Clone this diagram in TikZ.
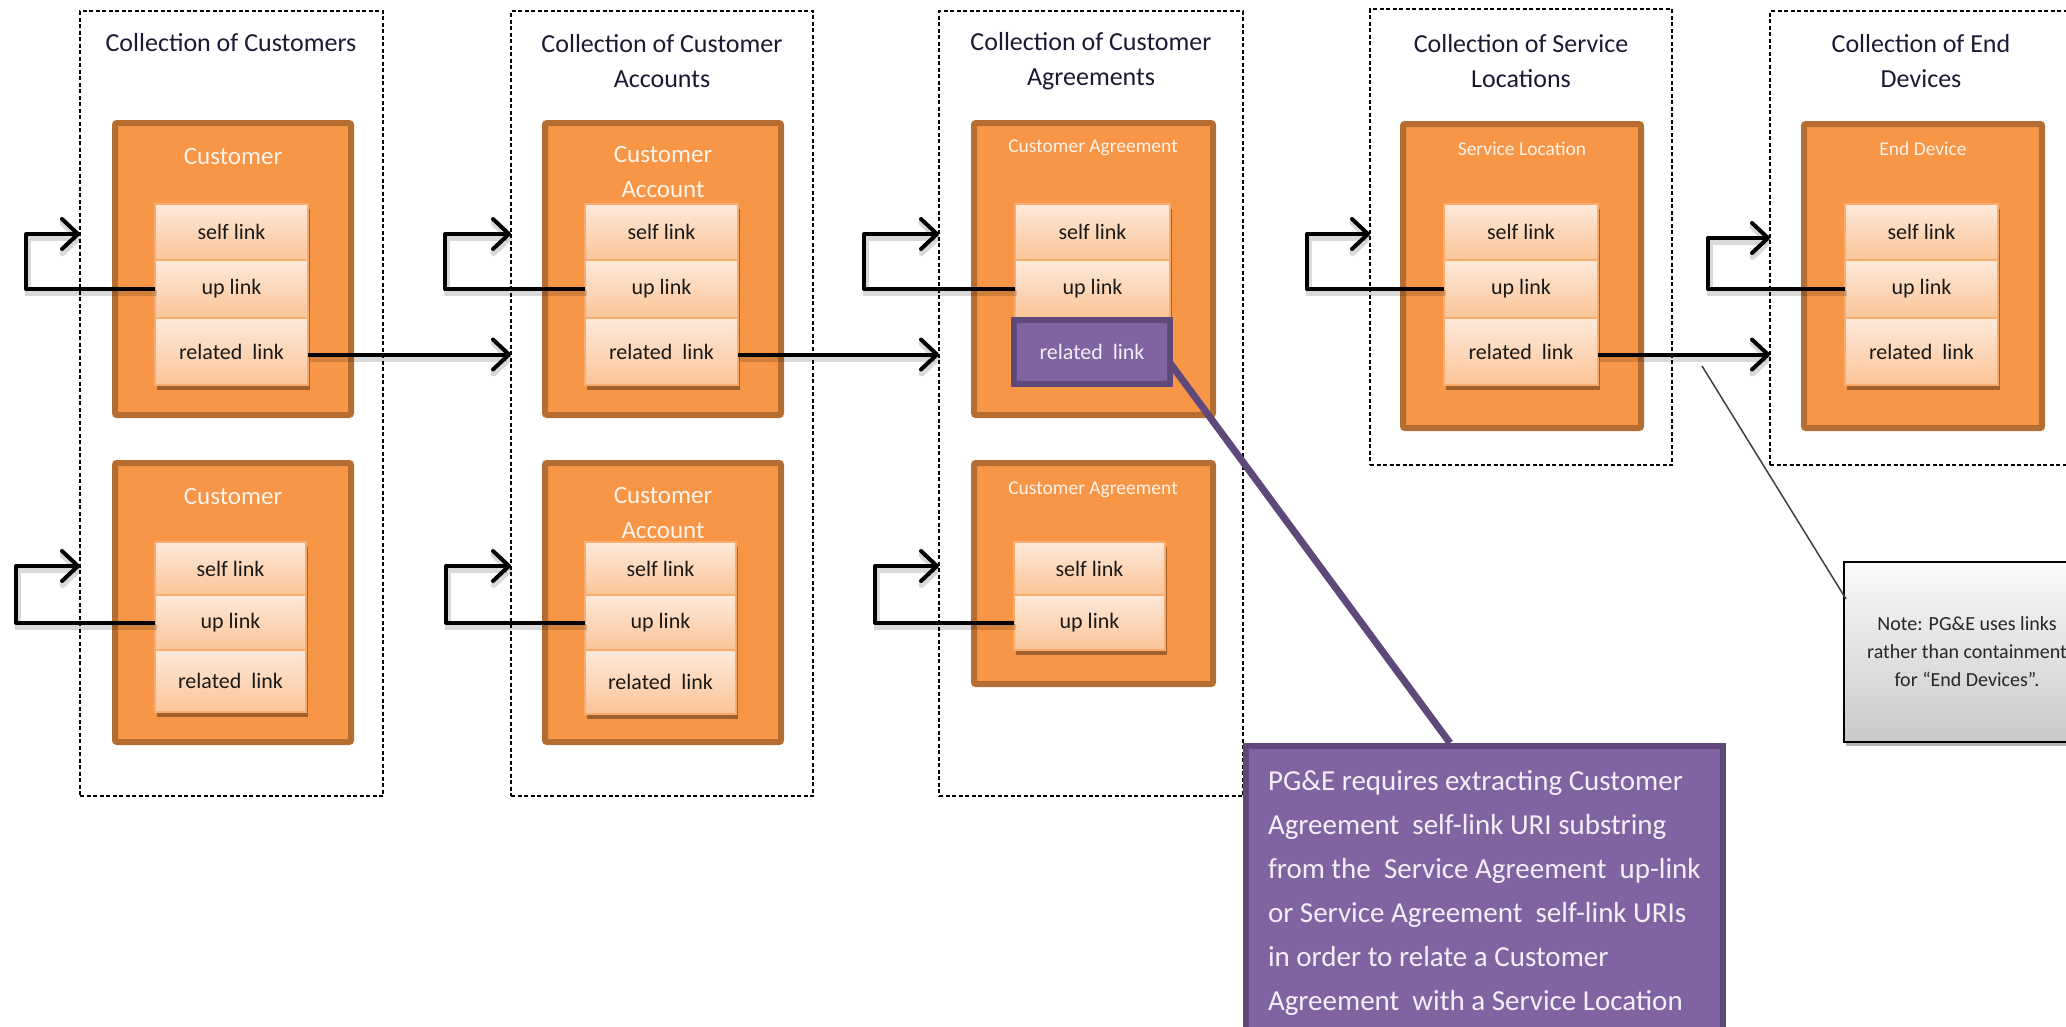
\documentclass[tikz,border=0pt]{standalone}
\usepackage{fontspec}
\setmainfont{Carlito}
\usetikzlibrary{arrows.meta,calc,shadows}
\definecolor{orfill}{HTML}{F79646}
\definecolor{orline}{HTML}{B66D31}
\definecolor{rowtop}{HTML}{FDE9DA}
\definecolor{rowbot}{HTML}{FBC497}
\definecolor{rowline}{HTML}{F8AC6E}
\definecolor{pfill}{HTML}{8064A2}
\definecolor{pline}{HTML}{5F497A}
\definecolor{titletxt}{HTML}{1A1A33}
\definecolor{boxtxt}{HTML}{FFF3EA}
\definecolor{ptxt}{HTML}{F4EEF8}
\tikzset{
 coll/.style={draw=black, line width=1.4pt, dash pattern=on 4pt off 2.5pt, inner sep=0pt, outer sep=0pt},
 ent/.style={draw=orline, fill=orfill, line width=6pt, rounded corners=2pt, inner sep=0pt, outer sep=0pt},
 linkrow/.style={draw=rowline, line width=1.5pt, top color=rowtop, bottom color=rowbot, inner sep=0pt, outer sep=0pt, font=\fontsize{22}{24}\selectfont, text=black!90},
 prow/.style={draw=pline, fill=pfill, line width=6pt, inner sep=0pt, outer sep=0pt, font=\fontsize{22}{24}\selectfont, text=ptxt},
 stackshadow/.style={fill=rowbot, drop shadow={shadow xshift=2pt, shadow yshift=-5pt, opacity=0.35, fill=black}},
 ctitle/.style={font=\fontsize{26}{35}\selectfont, text=titletxt, align=center, inner sep=0pt},
 etitle/.style={font=\fontsize{25}{35}\selectfont, text=boxtxt, align=center, inner sep=0pt},
 esmall/.style={font=\fontsize{19.5}{22}\selectfont, text=boxtxt, inner sep=0pt},
 conn/.style={line width=4pt, line join=round, -{Straight Barb[length=16pt,width=30pt,round]},
   preaction={draw=black, opacity=0.15, line width=6pt, transform canvas={shift={(1.5pt,-4pt)}}}},
 pconn/.style={draw=pline, line width=7pt},
 gline/.style={draw=black!75, line width=1.5pt},
 pnotebox/.style={draw=pline, fill=pfill, line width=6pt, inner xsep=22pt, inner ysep=24pt, text=ptxt, font=\fontsize{29}{44}\selectfont},
 gnotebox/.style={draw=black, line width=2pt, top color=gray!4, bottom color=gray!42, align=center, inner sep=0pt, font=\fontsize{20}{28}\selectfont, text=black!85, drop shadow={shadow xshift=2pt, shadow yshift=-4pt, opacity=0.3, fill=black}}
}
\newcommand\rnode[7]{%
 \pgfmathsetmacro\rnX{(#3+#5)/2}%
 \pgfmathsetmacro\rnY{(#4+#6)/2}%
 \pgfmathsetmacro\rnW{#5-#3}%
 \pgfmathsetmacro\rnH{#6-#4}%
 \node[#1,minimum width=\rnW pt,minimum height=\rnH pt] (#2) at (\rnX,\rnY) {#7};}
\newcommand\threestack[7]{%
 \path[stackshadow] (#2,#4) rectangle (#3,#7);
 \rnode{linkrow}{#1self}{#2}{#4}{#3}{#5}{self link}
 \rnode{linkrow}{#1up}{#2}{#5}{#3}{#6}{up link}
 \rnode{linkrow}{#1rel}{#2}{#6}{#3}{#7}{related\ \ link}}
\newcommand\twostack[6]{%
 \path[stackshadow] (#2,#4) rectangle (#3,#6);
 \rnode{linkrow}{#1self}{#2}{#4}{#3}{#5}{self link}
 \rnode{linkrow}{#1up}{#2}{#5}{#3}{#6}{up link}}
\begin{document}
\begin{tikzpicture}[x=1pt,y=-1pt]
\useasboundingbox[fill=white] (0,0) rectangle (2066,1026);
\clip (0,0) rectangle (2066,1026);
% collections
\rnode{coll}{col1}{80}{11}{383}{796}{}
\rnode{coll}{col2}{511}{11}{813}{796}{}
\rnode{coll}{col3}{939}{11}{1243}{796}{}
\rnode{coll}{col4}{1370}{9}{1672}{465}{}
\rnode{coll}{col5}{1770}{11}{2072}{465}{}
\node[ctitle] (col1t) at (231,43) {Collection of Customers};
\node[ctitle] (col2t) at (662,61) {Collection of Customer\\Accounts};
\node[ctitle] (col3t) at (1091,61) {Collection of Customer\\Agreements};
\node[ctitle] (col4t) at (1521,61) {Collection of Service\\Locations};
\node[ctitle] (col5t) at (1921,61) {Collection of End\\Devices};
% entities
\rnode{ent}{e1a}{115}{123}{351}{415}{}
\rnode{ent}{e1b}{115}{463}{351}{742}{}
\rnode{ent}{e2a}{545}{123}{781}{415}{}
\rnode{ent}{e2b}{545}{463}{781}{742}{}
\rnode{ent}{e3a}{974}{123}{1213}{415}{}
\rnode{ent}{e3b}{974}{463}{1213}{684}{}
\rnode{ent}{e4}{1403}{124}{1641}{428}{}
\rnode{ent}{e5}{1804}{124}{2042}{428}{}
\node[etitle] (e1at) at (233,156) {Customer};
\node[etitle] (e1bt) at (233,496) {Customer};
\node[etitle] (e2at) at (663,172) {Customer\\Account};
\node[etitle] (e2bt) at (663,513) {Customer\\Account};
\node[esmall] (e3at) at (1093,148) {Customer Agreement};
\node[esmall] (e3bt) at (1093,490) {Customer Agreement};
\node[esmall] (e4t) at (1522,149) {Service Location};
\node[esmall] (e5t) at (1923,149) {End Device};
% link stacks
\threestack{a1}{155}{308}{204}{260}{318}{385}
\threestack{b1}{155}{306}{542}{595}{650}{712}
\threestack{a2}{585}{738}{204}{260}{318}{385}
\threestack{b2}{585}{736}{542}{595}{650}{714}
\twostack{a3}{1015}{1170}{204}{260}{318}
\rnode{prow}{a3rel}{1014}{320}{1170}{384}{related\ \ link}
\twostack{b3}{1014}{1165}{542}{595}{650}
\threestack{a4}{1444}{1598}{204}{260}{318}{385}
\threestack{a5}{1845}{1998}{204}{260}{318}{385}
% self loops (up links)
\coordinate (k1a) at (26,234);
\coordinate (k1b) at (16,566);
\coordinate (k2a) at (445,234);
\coordinate (k2b) at (446,566);
\coordinate (k3a) at (864,234);
\coordinate (k3b) at (875,566);
\coordinate (k4) at (1307,234);
\coordinate (k5) at (1708,238);
\draw[conn] (a1up.west) -| (k1a) -- (col1.west |- k1a);
\draw[conn] (b1up.west) -| (k1b) -- (col1.west |- k1b);
\draw[conn] (a2up.west) -| (k2a) -- (col2.west |- k2a);
\draw[conn] (b2up.west) -| (k2b) -- (col2.west |- k2b);
\draw[conn] (a3up.west) -| (k3a) -- (col3.west |- k3a);
\draw[conn] (b3up.west) -| (k3b) -- (col3.west |- k3b);
\draw[conn] (a4up.west) -| (k4) -- (col4.west |- k4);
\draw[conn] (a5up.west) -| (k5) -- (col5.west |- k5);
% related links
\draw[conn] ($(a1rel.east)+(0,3)$) -- ($(col2.west |- a1rel.east)+(0,3)$);
\draw[conn] ($(a2rel.east)+(0,3)$) -- ($(col3.west |- a2rel.east)+(0,3)$);
\draw[conn] ($(a4rel.east)+(0,3)$) -- ($(col5.west |- a4rel.east)+(0,3)$);
% notes
\node[pnotebox, anchor=north west] (pnote) at (1243,743) {\begin{minipage}[t][300pt][t]{433pt}\raggedright
\mbox{PG\&E requires extracting Customer}\\
\mbox{Agreement\ \ self-link URI substring}\\
\mbox{from the\ \ Service Agreement\ \ up-link}\\
\mbox{or Service Agreement\ \ self-link URIs}\\
\mbox{in order to relate a Customer}\\
\mbox{Agreement\ \ with a Service Location}\end{minipage}};
\rnode{gnotebox}{gnote}{1844}{562}{2090}{742}{Note: PG\&E uses links\\rather than containment\\for ``End Devices''.}
\draw[pconn] ($(a3rel.east)+(0,11)$) -- ($(pnote.north west)+(207,0)$);
\coordinate (gfree) at (1702,366);
\draw[gline] (gfree) -- ($(gnote.north west)+(3,38)$);
\end{tikzpicture}
\end{document}
